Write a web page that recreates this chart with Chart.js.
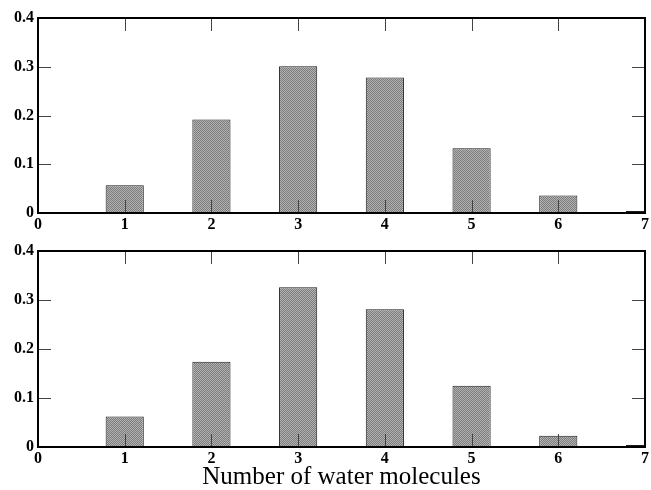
<!DOCTYPE html>
<html>
<head>
<meta charset="utf-8">
<script src="https://cdn.jsdelivr.net/npm/chart.js@4/dist/chart.umd.min.js"></script>
<style>
  body { margin: 0; background: #fff; }
  #wrap { position: relative; width: 651px; height: 490px; }
  canvas { position: absolute; left: 0; }
  #topChart { top: 0; }
  #bottomChart { top: 233px; }
</style>
</head>
<body>
<div id="wrap">
  <canvas id="topChart" width="651" height="240"></canvas>
  <canvas id="bottomChart" width="651" height="257"></canvas>
</div>
<script>
// number of water molecules and the fraction of each, two systems
const waterCounts = [1, 2, 3, 4, 5, 6, 7];
const topFractions = [0.057, 0.192, 0.301, 0.278, 0.133, 0.036, 0.004];
const bottomFractions = [0.062, 0.174, 0.326, 0.281, 0.125, 0.023, 0.004];
const xTicks = [0, 1, 2, 3, 4, 5, 6, 7];
const yTicks = [0, 0.1, 0.2, 0.3, 0.4];

const topCanvas = document.getElementById('topChart');
const bottomCanvas = document.getElementById('bottomChart');

// dithered grey fill like the original plot
function makePattern() {
  const c = document.createElement('canvas');
  c.width = 2; c.height = 2;
  const g = c.getContext('2d');
  g.fillStyle = '#b2b2b2'; g.fillRect(0, 0, 2, 2);
  g.fillStyle = '#7c7c7c'; g.fillRect(0, 0, 1, 1); g.fillRect(1, 1, 1, 1);
  return g.createPattern(c, 'repeat');
}
const barFill = makePattern();

// frame plus ticks pointing inward on all four sides
const innerTicks = {
  id: 'innerTicks',
  afterDatasetsDraw(chart) {
    const ctx = chart.ctx;
    const a = chart.chartArea;
    const x = chart.scales.x, y = chart.scales.y;
    ctx.save();
    ctx.strokeStyle = '#444';
    ctx.lineWidth = 1;
    ctx.beginPath();
    xTicks.forEach(function(v) {
      if (v <= x.min || v >= x.max) return;
      const px = Math.round(x.getPixelForValue(v)) + 0.5;
      ctx.moveTo(px, a.top); ctx.lineTo(px, a.top + 13);
      ctx.moveTo(px, a.bottom); ctx.lineTo(px, a.bottom - 13);
    });
    yTicks.forEach(function(v) {
      if (v <= y.min || v >= y.max) return;
      const py = Math.round(y.getPixelForValue(v)) + 0.5;
      ctx.moveTo(a.left, py); ctx.lineTo(a.left + 13, py);
      ctx.moveTo(a.right, py); ctx.lineTo(a.right - 13, py);
    });
    ctx.stroke();
    ctx.strokeStyle = '#000';
    ctx.lineWidth = 2;
    ctx.strokeRect(a.left, a.top, a.right - a.left, a.bottom - a.top);
    ctx.restore();
  }
};

const tickFont = { family: 'Liberation Serif', size: 16, weight: 'bold' };

function makeChart(canvas, values, xHeight, withTitle) {
  return new Chart(canvas, {
    type: 'bar',
    data: {
      datasets: [{
        data: waterCounts.map(function(n, i) { return { x: n, y: values[i] }; }),
        backgroundColor: barFill,
        borderColor: '#1a1a1a',
        borderWidth: 1,
        barPercentage: 0.44,
        categoryPercentage: 1
      }]
    },
    options: {
      responsive: false,
      animation: false,
      devicePixelRatio: 1,
      layout: { padding: { top: 18, right: 4, left: 0, bottom: 0 } },
      plugins: { legend: { display: false }, tooltip: { enabled: false } },
      scales: {
        x: {
          type: 'linear',
          offset: false,
          min: 0, max: 7,
          grid: { display: false, drawTicks: false, offset: false },
          border: { display: false },
          ticks: { stepSize: 1, color: '#000', font: tickFont, padding: 2, maxRotation: 0 },
          title: {
            display: withTitle,
            text: 'Number of water molecules',
            color: '#000',
            font: { family: 'Liberation Serif', size: 25, lineHeight: 1 },
            padding: { top: 0, bottom: 0 }
          },
          afterFit: function(s) { s.height = xHeight; }
        },
        y: {
          min: 0, max: 0.4,
          grid: { display: false, drawTicks: false },
          border: { display: false },
          ticks: { stepSize: 0.1, color: '#000', font: tickFont, padding: 4 },
          afterFit: function(s) { s.width = 38; }
        }
      }
    },
    plugins: [innerTicks]
  });
}

const topChart = makeChart(topCanvas, topFractions, 27, false);
const bottomChart = makeChart(bottomCanvas, bottomFractions, 43, true);
</script>
</body>
</html>
